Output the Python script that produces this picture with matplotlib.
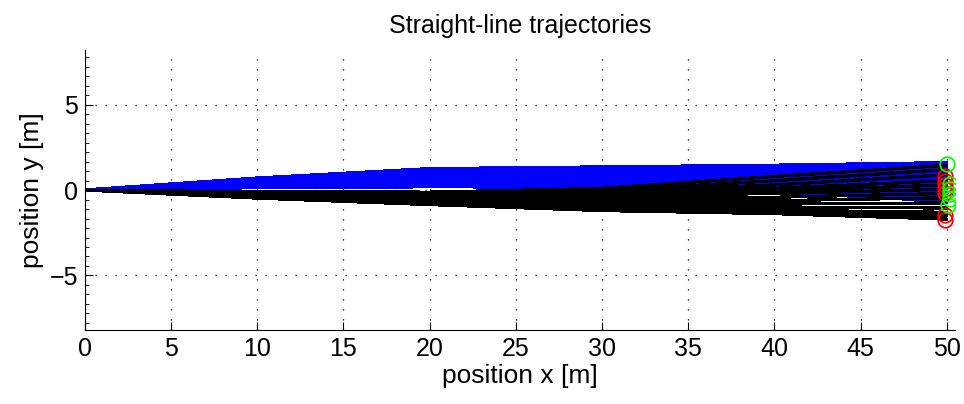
import matplotlib
matplotlib.use("Agg")
import matplotlib.pyplot as plt
from matplotlib.ticker import MultipleLocator

plt.rcParams['font.family'] = ['Liberation Sans', 'DejaVu Sans']

# x positions where each trajectory's y is read
x_knots = [0, 10, 20, 30, 40, 50]

# blue trajectories, y at x_knots
blue_paths = [
    [0, 0.70, 1.25, 1.35, 1.45, 1.60],
    [0, 0.65, 1.15, 1.30, 1.40, 1.45],
    [0, 0.60, 1.10, 1.25, 1.30, 1.35],
    [0, 0.55, 1.00, 1.15, 1.20, 1.20],
    [0, 0.50, 0.95, 1.05, 1.10, 1.00],
    [0, 0.45, 0.85, 0.95, 0.95, 0.85],
    [0, 0.40, 0.75, 0.85, 0.85, 0.70],
    [0, 0.35, 0.65, 0.75, 0.70, 0.55],
    [0, 0.30, 0.55, 0.60, 0.55, 0.35],
    [0, 0.27, 0.45, 0.50, 0.40, 0.15],
    [0, 0.24, 0.38, 0.40, 0.28, -0.05],
    [0, 0.21, 0.30, 0.32, 0.15, -0.25],
    [0, 0.18, 0.24, 0.25, 0.02, -0.45],
    [0, 0.15, 0.20, 0.18, -0.10, -0.65],
]

# black trajectories, y at x_knots
black_paths = [
    [0, -0.10, -0.12, 0.10, 0.80, 1.45],
    [0, -0.10, -0.12, -0.05, 0.55, 1.20],
    [0, -0.12, -0.15, -0.10, 0.30, 0.90],
    [0, -0.14, -0.18, -0.15, 0.10, 0.55],
    [0, -0.17, -0.22, -0.22, -0.05, 0.30],
    [0, -0.20, -0.30, -0.35, -0.20, 0.05],
    [0, -0.23, -0.40, -0.50, -0.42, -0.20],
    [0, -0.27, -0.50, -0.65, -0.62, -0.45],
    [0, -0.30, -0.58, -0.78, -0.82, -0.75],
    [0, -0.35, -0.65, -0.90, -1.00, -1.05],
    [0, -0.40, -0.75, -1.03, -1.18, -1.30],
    [0, -0.44, -0.80, -1.12, -1.28, -1.50],
    [0, -0.47, -0.85, -1.20, -1.38, -1.70],
]

# end markers
red_x = [49.9, 49.9, 49.9, 49.9, 49.9, 49.9, 49.9]
red_end = [0.80, 0.55, 0.30, 0.05, -0.20, -1.45, -1.75]
green_x = [50.0, 50.2, 50.2, 50.2, 50.2, 50.1]
green_end = [1.55, 0.35, 0.05, -0.25, -0.55, -0.90]

fig = plt.figure(figsize=(9.64, 4.04), dpi=100)
ax = fig.add_axes([0.088, 0.183, 0.903, 0.693])

for p in blue_paths:
    ax.plot(x_knots, p, color='#0000ff', lw=1.8, antialiased=False)
for p in black_paths:
    ax.plot(x_knots, p, color='black', lw=1.6, antialiased=False)

ax.plot(red_x, red_end, 'o', mfc='none', mec='#ff0000', ms=10.5, mew=1.3)
ax.plot(green_x, green_end, 'o', mfc='none', mec='#00ff00', ms=10.5, mew=1.3)

ax.set_xlim(0, 50.5)
ax.set_ylim(-8.2, 8.2)
ax.xaxis.set_major_locator(MultipleLocator(5))
ax.yaxis.set_major_locator(MultipleLocator(5))
ax.yaxis.set_minor_locator(MultipleLocator(5 / 9))

ax.grid(True, which='major', color='black', linestyle=(0, (1, 7)), linewidth=0.9)
ax.set_axisbelow(True)

for s in ['top', 'right']:
    ax.spines[s].set_visible(False)
ax.tick_params(which='both', direction='in', labelsize=18, pad=5)
ax.tick_params(which='major', length=6)
ax.tick_params(which='minor', length=3)
ax.tick_params(axis='x', which='minor', bottom=False)

ax.set_xlabel('position x [m]', fontsize=19, labelpad=2)
ax.set_ylabel('position y [m]', fontsize=19, labelpad=4)
ax.set_title('Straight-line trajectories', fontsize=18, pad=12)

fig.savefig('out.png', dpi=100)
